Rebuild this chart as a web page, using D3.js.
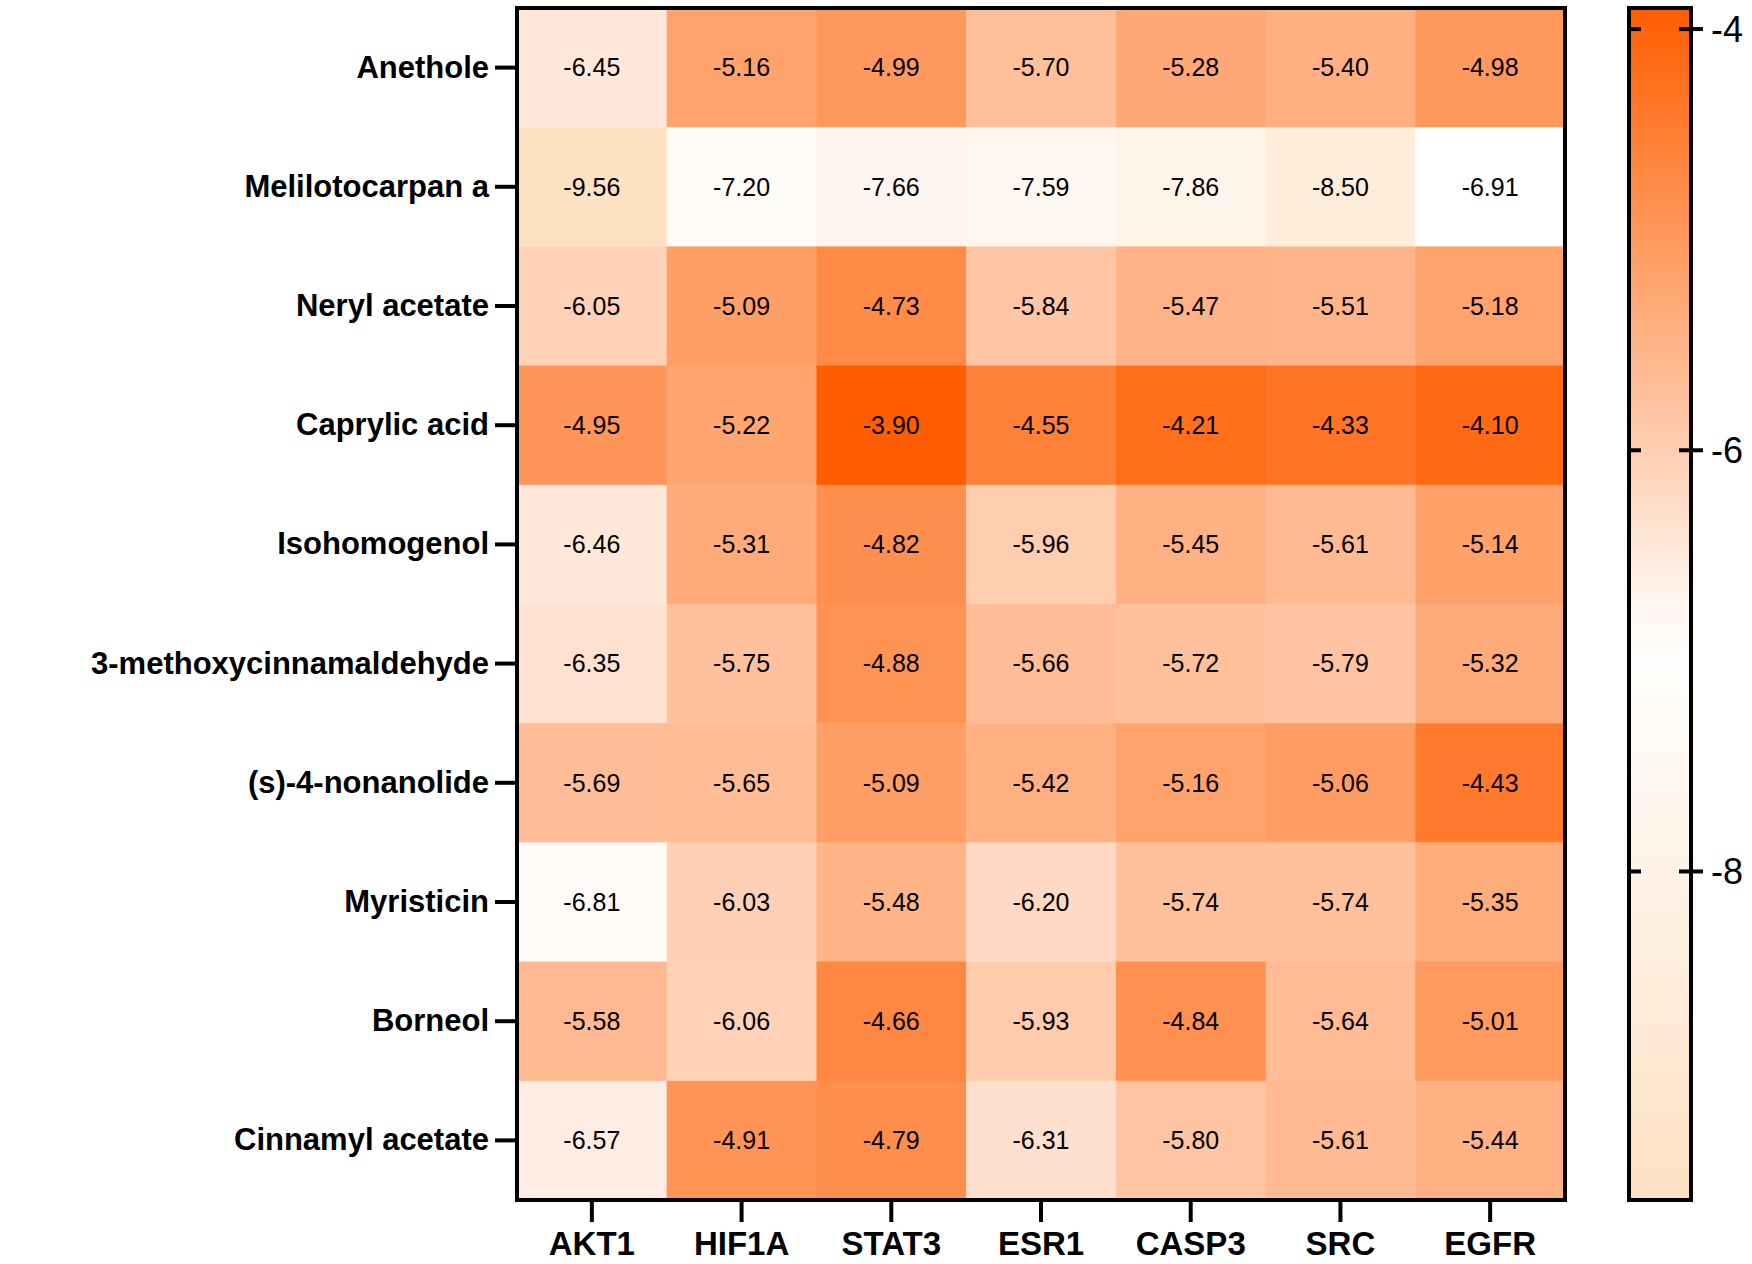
<!DOCTYPE html>
<html><head><meta charset="utf-8">
<script src="https://cdn.jsdelivr.net/npm/d3@7"></script>
<style>body{margin:0;background:#fff}</style>
</head><body>
<script>
var cols = ["AKT1","HIF1A","STAT3","ESR1","CASP3","SRC","EGFR"];
var rows = ["Anethole","Melilotocarpan a","Neryl acetate","Caprylic acid","Isohomogenol",
    "3-methoxycinnamaldehyde","(s)-4-nonanolide","Myristicin","Borneol","Cinnamyl acetate"];
var vals = [
    [-6.45,-5.16,-4.99,-5.70,-5.28,-5.40,-4.98],
    [-9.56,-7.20,-7.66,-7.59,-7.86,-8.50,-6.91],
    [-6.05,-5.09,-4.73,-5.84,-5.47,-5.51,-5.18],
    [-4.95,-5.22,-3.90,-4.55,-4.21,-4.33,-4.10],
    [-6.46,-5.31,-4.82,-5.96,-5.45,-5.61,-5.14],
    [-6.35,-5.75,-4.88,-5.66,-5.72,-5.79,-5.32],
    [-5.69,-5.65,-5.09,-5.42,-5.16,-5.06,-4.43],
    [-6.81,-6.03,-5.48,-6.20,-5.74,-5.74,-5.35],
    [-5.58,-6.06,-4.66,-5.93,-4.84,-5.64,-5.01],
    [-6.57,-4.91,-4.79,-6.31,-5.80,-5.61,-5.44]];

var cells = [];
vals.forEach(function(r, i) { r.forEach(function(v, j) { cells.push({r: rows[i], c: cols[j], v: v}); }); });

var W = 1752, H = 1264;
var m = {left: 517, right: 1565, top: 8, bottom: 1200};

var x = d3.scaleBand().domain(cols).range([m.left, m.right]);
var y = d3.scaleBand().domain(rows).range([m.top, m.bottom]);
var color = d3.scaleLinear().domain([-9.56, -6.9, -3.9])
    .range(["#fde1c3", "#ffffff", "#ff5e00"]).clamp(true);

var svg = d3.select('body').append('svg').attr('width', W).attr('height', H)
    .style('font-family', 'Arial, "Liberation Sans", sans-serif');

svg.selectAll('rect.cell').data(cells).enter().append('rect')
    .attr('x', function(d) { return x(d.c); })
    .attr('y', function(d) { return y(d.r); })
    .attr('width', x.bandwidth() + 0.5)
    .attr('height', y.bandwidth() + 0.5)
    .attr('fill', function(d) { return color(d.v); });

svg.selectAll('text.val').data(cells).enter().append('text')
    .attr('x', function(d) { return x(d.c) + x.bandwidth() / 2; })
    .attr('y', function(d) { return y(d.r) + y.bandwidth() / 2; })
    .attr('text-anchor', 'middle').attr('dy', '0.35em')
    .style('font-size', '25px')
    .text(function(d) { return d.v.toFixed(2); });

svg.append('rect').attr('x', m.left).attr('y', m.top)
    .attr('width', m.right - m.left).attr('height', m.bottom - m.top)
    .attr('fill', 'none').attr('stroke', '#000').attr('stroke-width', 4);

// axes
var ya = svg.append('g').attr('transform', 'translate(' + (m.left - 2) + ',0)')
    .call(d3.axisLeft(y).tickSize(20).tickPadding(6));
var xa = svg.append('g').attr('transform', 'translate(0,' + (m.bottom + 2) + ')')
    .call(d3.axisBottom(x).tickSize(20).tickPadding(10));
[ya, xa].forEach(function(a) {
    a.select('.domain').remove();
    a.selectAll('line').attr('stroke', '#000').attr('stroke-width', 4);
    a.selectAll('text').attr('fill', '#000').style('font-weight', 'bold');
});
ya.selectAll('text').style('font-size', '31px');
xa.selectAll('text').style('font-size', '33px');

// colour bar
var cbx = 1629, cbw = 62;
var cy = d3.scaleLinear().domain([-9.56, -3.90]).range([m.bottom, m.top]);
var defs = svg.append('defs');
var grad = defs.append('linearGradient').attr('id', 'g').attr('x1', 0).attr('x2', 0).attr('y1', 1).attr('y2', 0);
d3.range(0, 1.0001, 0.05).forEach(function(t) {
    var v = -9.56 + t * (5.66);
    grad.append('stop').attr('offset', t).attr('stop-color', color(v));
});
svg.append('rect').attr('x', cbx).attr('y', m.top).attr('width', cbw).attr('height', m.bottom - m.top)
    .attr('fill', 'url(#g)').attr('stroke', '#000').attr('stroke-width', 4);
var ticks = [-4, -6, -8];
svg.selectAll('line.cbt').data(ticks).enter().append('line')
    .attr('x1', cbx).attr('x2', cbx + 12)
    .attr('y1', function(d) { return cy(d); }).attr('y2', function(d) { return cy(d); })
    .attr('stroke', '#000').attr('stroke-width', 4);
svg.selectAll('line.cbt2').data(ticks).enter().append('line')
    .attr('x1', cbx + cbw - 12).attr('x2', cbx + cbw + 12)
    .attr('y1', function(d) { return cy(d); }).attr('y2', function(d) { return cy(d); })
    .attr('stroke', '#000').attr('stroke-width', 4);
svg.selectAll('text.cbl').data(ticks).enter().append('text')
    .attr('x', cbx + cbw + 20).attr('y', function(d) { return cy(d); })
    .attr('dy', '0.35em').style('font-size', '36px')
    .text(function(d) { return d; });
</script>
</body></html>
